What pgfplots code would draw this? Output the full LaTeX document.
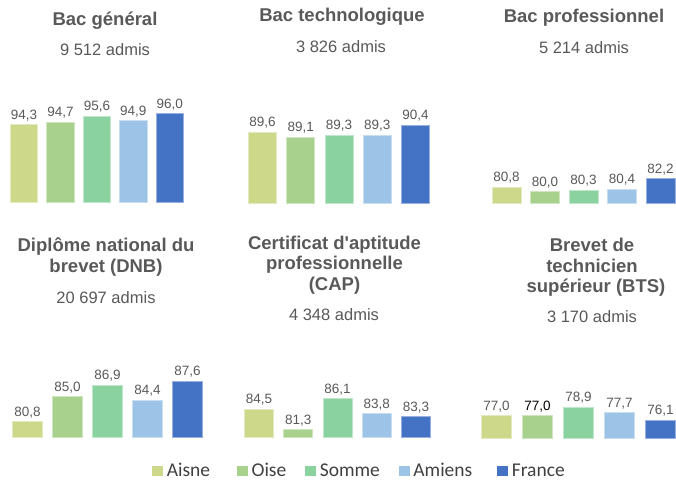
\documentclass[border=0pt]{standalone}
\usepackage{pgfplots}
\pgfplotsset{compat=1.18}
\usepackage{fontspec}
\setmainfont{Liberation Sans}[Ligatures=TeXOff]
\newfontfamily\legfont{Carlito}
\definecolor{cA}{HTML}{CDD88A}
\definecolor{cO}{HTML}{A9D18E}
\definecolor{cS}{HTML}{8AD3A0}
\definecolor{cM}{HTML}{9DC3E6}
\definecolor{cF}{HTML}{4472C4}
\definecolor{txt}{HTML}{595959}
\definecolor{legtxt}{HTML}{404040}
\pgfplotsset{
  mini/.style={
    scale only axis, height=100bp, hide axis, xmin=-0.5, xmax=4.5,
    ybar, clip=false, anchor=south west,
    nodes near coords,
    every node near coord/.append style={font=\fontsize{13.5bp}{16bp}\selectfont, text=txt},
    /pgf/number format/fixed, /pgf/number format/fixed zerofill,
    /pgf/number format/precision=1, /pgf/number format/use comma,
    /pgf/number format/assume math mode=true,
  },
  leg/.style={legend image code/.code={\fill[##1,draw=none] (0bp,-5bp) rectangle (11bp,5bp);}},
  b/.style={fill=#1, draw=#1!55!white, line width=0.8bp, bar shift=0pt, leg},
}
\newcommand{\ttl}{\bfseries\fontsize{18.5bp}{21bp}\selectfont}
\newcommand{\sub}{\fontsize{16.5bp}{19bp}\selectfont}
\newcommand{\gap}[1]{\rule{#1}{0pt}}
\begin{document}
\begin{tikzpicture}
\useasboundingbox (0,0) rectangle (676bp,-481bp);
% titles
\begin{scope}[every node/.style={anchor=base, text=txt, inner sep=0pt}]
\node[font=\ttl] at (105bp,-25bp) {Bac général};
\node[font=\sub] at (105bp,-55bp) {9 512 admis};
\node[font=\ttl] at (342bp,-21bp) {Bac technologique};
\node[font=\sub] at (341bp,-52bp) {3 826 admis};
\node[font=\ttl] at (584bp,-22bp) {Bac professionnel};
\node[font=\sub] at (584bp,-53bp) {5 214 admis};
\node[font=\ttl] at (106bp,-251.5bp) {Diplôme national du};
\node[font=\ttl] at (106bp,-272bp) {brevet (DNB)};
\node[font=\sub] at (106bp,-303bp) {20 697 admis};
\node[font=\ttl] at (334.5bp,-249bp) {Certificat d'aptitude};
\node[font=\ttl] at (334.5bp,-269.5bp) {professionnelle};
\node[font=\ttl] at (334.5bp,-290bp) {(CAP)};
\node[font=\sub] at (334bp,-320bp) {4 348 admis};
\node[font=\ttl] at (592bp,-251bp) {Brevet de};
\node[font=\ttl] at (592bp,-272bp) {technicien};
\node[font=\ttl] at (596bp,-292bp) {supérieur (BTS)};
\node[font=\sub] at (592bp,-322.5bp) {3 170 admis};
\end{scope}
% Bac général
\begin{axis}[mini, at={(5.8bp,-202.5bp)}, width=182.2bp, bar width=27.2bp, ymin=82.3, ymax=97.7]
\addplot[b=cA] coordinates {(0,94.3)};
\addplot[b=cO] coordinates {(1,94.7)};
\addplot[b=cS] coordinates {(2,95.6)};
\addplot[b=cM] coordinates {(3,94.9)};
\addplot[b=cF] coordinates {(4,96.0)};
\end{axis}
% Bac technologique
\begin{axis}[mini, at={(243.4bp,-203bp)}, width=191.2bp, bar width=28.2bp, ymin=81.9, ymax=92.8]
\addplot[b=cA] coordinates {(0,89.6)};
\addplot[b=cO] coordinates {(1,89.1)};
\addplot[b=cS] coordinates {(2,89.3)};
\addplot[b=cM] coordinates {(3,89.3)};
\addplot[b=cF] coordinates {(4,90.4)};
\end{axis}
% Bac professionnel
\begin{axis}[mini, at={(487.3bp,-203bp)}, width=192.5bp, bar width=28.7bp, ymin=78.1, ymax=95.0]
\addplot[b=cA] coordinates {(0,80.8)};
\addplot[b=cO] coordinates {(1,80.0)};
\addplot[b=cS] coordinates {(2,80.3)};
\addplot[b=cM] coordinates {(3,80.4)};
\addplot[b=cF] coordinates {(4,82.2)};
\end{axis}
% DNB
\begin{axis}[mini, at={(7.5bp,-437.5bp)}, width=200bp, bar width=29.2bp, ymin=78.1, ymax=95.0]
\addplot[b=cA] coordinates {(0,80.8)};
\addplot[b=cO] coordinates {(1,85.0)};
\addplot[b=cS] coordinates {(2,86.9)};
\addplot[b=cM] coordinates {(3,84.4)};
\addplot[b=cF] coordinates {(4,87.6)};
\end{axis}
% CAP
\begin{axis}[mini, at={(239.4bp,-437.5bp)}, width=196.2bp, bar width=29.2bp, ymin=80.1, ymax=95.5,
  legend columns=-1,
  legend style={at={(0.607,-0.335)}, anchor=center, draw=none, fill=none,
    font=\legfont\fontsize{19.5bp}{22bp}\selectfont, text=legtxt,
    nodes={inner sep=0pt}, column sep=0pt}]
\addplot[b=cA] coordinates {(0,84.5)};
\addplot[b=cO] coordinates {(1,81.3)};
\addplot[b=cS] coordinates {(2,86.1)};
\addplot[b=cM] coordinates {(3,83.8)};
\addplot[b=cF] coordinates {(4,83.3)};
\legend{\gap{3.5bp}Aisne\gap{27bp},\gap{3.5bp}Oise\gap{19bp},\gap{3.5bp}Somme\gap{19bp},\gap{3.5bp}Amiens\gap{25bp},\gap{3.5bp}France}
\end{axis}
% BTS
\begin{axis}[mini, at={(476bp,-438bp)}, width=205bp, bar width=30.2bp, ymin=72.2, ymax=93.9]
\addplot[b=cA] coordinates {(0,77.0)};
\addplot[b=cO, every node near coord/.append style={text=black}] coordinates {(1,77.0)};
\addplot[b=cS] coordinates {(2,78.9)};
\addplot[b=cM] coordinates {(3,77.7)};
\addplot[b=cF] coordinates {(4,76.1)};
\end{axis}
\end{tikzpicture}
\end{document}
